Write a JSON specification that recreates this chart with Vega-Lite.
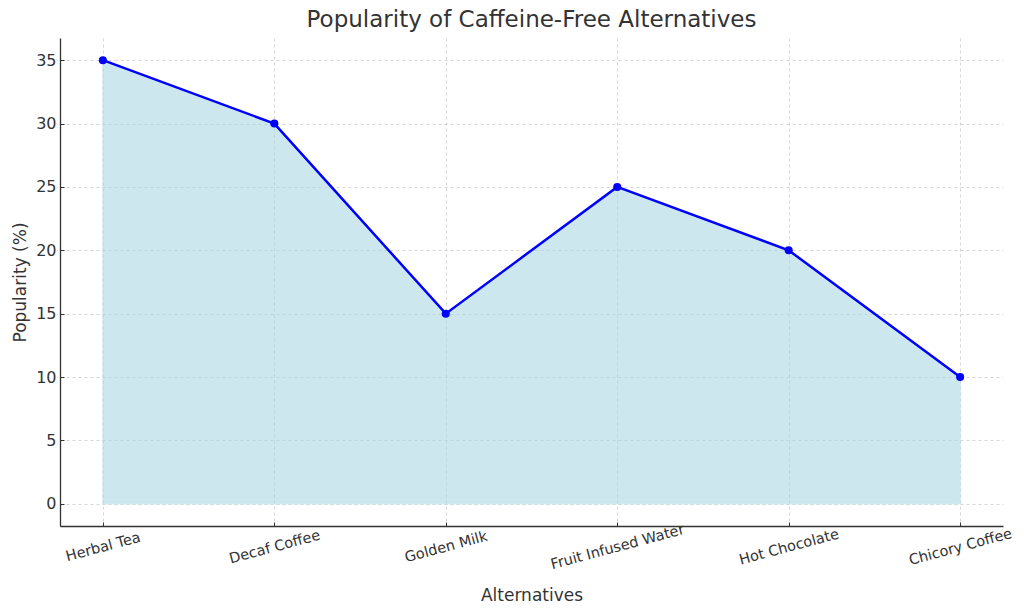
{
  "$schema": "https://vega.github.io/schema/vega-lite/v6.json",
  "width": 943,
  "height": 488,
  "autosize": "none",
  "padding": {"left": 60, "top": 38, "right": 21, "bottom": 88},
  "background": "white",
  "title": {
    "text": "Popularity of Caffeine-Free Alternatives",
    "font": "DejaVu Sans",
    "fontSize": 23,
    "fontWeight": "normal",
    "color": "#333333",
    "offset": 6
  },
  "config": {
    "view": {"stroke": null},
    "font": "DejaVu Sans"
  },
  "data": {
    "values": [
      {"alternative": "Herbal Tea", "popularity": 35},
      {"alternative": "Decaf Coffee", "popularity": 30},
      {"alternative": "Golden Milk", "popularity": 15},
      {"alternative": "Fruit Infused Water", "popularity": 25},
      {"alternative": "Hot Chocolate", "popularity": 20},
      {"alternative": "Chicory Coffee", "popularity": 10}
    ]
  },
  "encoding": {
    "x": {
      "field": "alternative",
      "type": "nominal",
      "sort": null,
      "scale": {"type": "point", "padding": 0.25},
      "axis": {
        "title": "Alternatives",
        "titleFont": "DejaVu Sans",
        "titleFontSize": 17,
        "titleFontWeight": "normal",
        "titleColor": "#333333",
        "titlePadding": 16,
        "labelAngle": -15,
        "labelAlign": "center",
        "labelBaseline": "middle",
        "labelPadding": 25,
        "labelFont": "DejaVu Sans",
        "labelFontSize": 14.5,
        "labelColor": "#333333",
        "domainColor": "#333333",
        "domainWidth": 1.3,
        "tickColor": "#333333",
        "tickSize": -4,
        "grid": true,
        "gridColor": "#cccccc",
        "gridDash": [3, 3],
        "gridWidth": 0.8
      }
    },
    "y": {
      "field": "popularity",
      "type": "quantitative",
      "scale": {"domain": [-1.75, 36.75], "nice": false, "zero": false},
      "axis": {
        "title": "Popularity (%)",
        "titleFont": "DejaVu Sans",
        "titleFontSize": 17,
        "titleFontWeight": "normal",
        "titleColor": "#333333",
        "titlePadding": 6,
        "values": [0, 5, 10, 15, 20, 25, 30, 35],
        "labelFont": "DejaVu Sans",
        "labelFontSize": 16,
        "labelColor": "#333333",
        "labelPadding": 8,
        "domainColor": "#333333",
        "domainWidth": 1.3,
        "tickColor": "#333333",
        "tickSize": -4,
        "grid": true,
        "gridColor": "#cccccc",
        "gridDash": [3, 3],
        "gridWidth": 0.8
      }
    }
  },
  "layer": [
    {
      "mark": {"type": "area", "color": "#add8e6", "opacity": 0.6, "stroke": "#add8e6", "strokeWidth": 1}
    },
    {
      "mark": {"type": "line", "color": "#0000ff", "strokeWidth": 2.5}
    },
    {
      "mark": {"type": "point", "filled": true, "color": "#0000ff", "size": 65, "opacity": 1}
    }
  ]
}
